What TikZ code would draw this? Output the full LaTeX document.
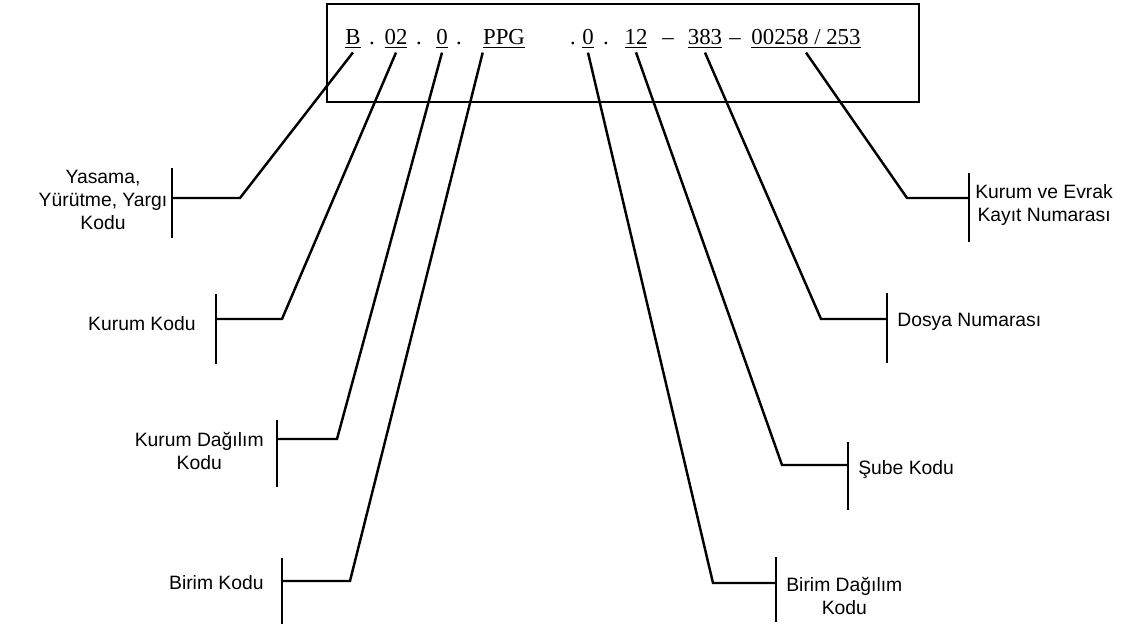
\documentclass[tikz,border=0pt]{standalone}
\usepackage{fontspec}
\setmainfont{Liberation Sans}
\newfontfamily\codefont{Liberation Serif}
\usetikzlibrary{calc}

\tikzset{
  lead/.style={line width=1.4pt},
  bar/.style={line width=1.4pt},
  part/.style={font=\codefont\fontsize{13}{15}\selectfont, inner sep=2pt, anchor=base},
  lbl/.style={font=\fontsize{11}{13}\selectfont, align=center, inner sep=0pt}
}

\begin{document}
\begin{tikzpicture}[x=0.02cm,y=-0.02cm]
\useasboundingbox (0,0) rectangle (1144,631);
% code box
\draw[line width=1.4pt] (327,4) rectangle (919,102);
\node[part] (b)    at (353,45) {\underline{B}};
\node[part] (d1)   at (372,45) {.};
\node[part] (kur)  at (396,45) {\underline{02}};
\node[part] (d2)   at (419,45) {.};
\node[part] (kd)   at (442,45) {\underline{0}};
\node[part] (d3)   at (459,45) {.};
\node[part] (ppg)  at (504,45) {\underline{PPG}};
\node[part] (d4)   at (573,45) {.};
\node[part] (bd)   at (588,45) {\underline{0}};
\node[part] (d5)   at (606,45) {.};
\node[part] (sb)   at (636,45) {\underline{12}};
\node[part] (m1)   at (668,45) {–};
\node[part] (dos)  at (705,45) {\underline{383}};
\node[part] (m2)   at (735,45) {–};
\node[part] (evr)  at (806,45) {\underline{00258 / 253}};

% corners
\coordinate (cB)   at (240,198);
\coordinate (cKur) at (282,319);
\coordinate (cKd)  at (337,439);
\coordinate (cPpg) at (350,581);
\coordinate (cBd)  at (713,583);
\coordinate (cSb)  at (782,465);
\coordinate (cDos) at (821,319);
\coordinate (cEvr) at (907,198);

% brackets
\coordinate (yB1) at (172,168);   \coordinate (yB2) at (172,238);
\coordinate (yK1) at (216,294);   \coordinate (yK2) at (216,364);
\coordinate (yD1) at (277,420);   \coordinate (yD2) at (277,487);
\coordinate (yP1) at (282,558);   \coordinate (yP2) at (282,624);
\coordinate (yA1) at (776,557);   \coordinate (yA2) at (776,622);
\coordinate (yS1) at (848,442);   \coordinate (yS2) at (848,510);
\coordinate (yN1) at (887,293);   \coordinate (yN2) at (887,363);
\coordinate (yE1) at (969,173);   \coordinate (yE2) at (969,242);
\foreach \k in {B,K,D,P,A,S,N,E}
  \draw[bar] (y\k1) -- (y\k2);

% leads
\draw[lead] (b.south) -- (cB) -- (cB -| yB1);
\draw[lead] (kur.south) -- (cKur) -- (cKur -| yK1);
\draw[lead] (kd.south) -- (cKd) -- (cKd -| yD1);
\draw[lead] ([xshift=2pt]ppg.south west) -- (cPpg) -- (cPpg -| yP1);
\draw[lead] (bd.south) -- (cBd) -- (cBd -| yA1);
\draw[lead] (sb.south) -- (cSb) -- (cSb -| yS1);
\draw[lead] (dos.south) -- (cDos) -- (cDos -| yN1);
\draw[lead] (evr.south) -- (cEvr) -- (cEvr -| yE1);

% labels
\node[lbl] (lYas) at (103,200) {Yasama,\\Yürütme, Yargı\\Kodu};
\node[lbl, anchor=east] (lKur) at (196,324) {Kurum Kodu};
\node[lbl, anchor=east] (lKd)  at (264,451) {Kurum Dağılım\\Kodu};
\node[lbl, anchor=east] (lPpg) at (264,583) {Birim Kodu};
\node[lbl, anchor=west] (lBd)  at (786,596) {Birim Dağılım\\Kodu};
\node[lbl, anchor=west] (lSb)  at (858,470) {Şube Kodu};
\node[lbl, anchor=west] (lDos) at (897,322) {Dosya Numarası};
\node[lbl, anchor=west] (lEvr) at (975,205) {Kurum ve Evrak\\Kayıt Numarası};
\end{tikzpicture}
\end{document}
